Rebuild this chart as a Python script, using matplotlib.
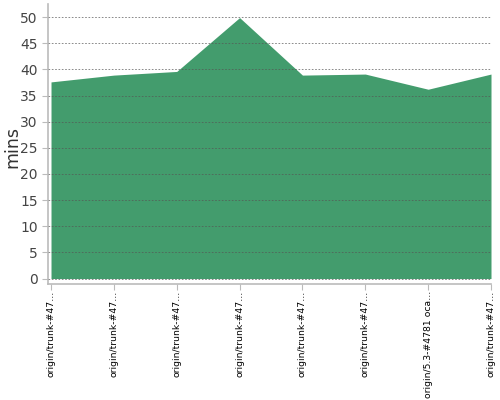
import matplotlib
matplotlib.use("Agg")
import matplotlib.pyplot as plt

# build labels (truncated as in the original) and build durations in minutes
labels = ["origin/trunk-#47\u2026", "origin/trunk-#47\u2026", "origin/trunk-#47\u2026",
          "origin/trunk-#47\u2026", "origin/trunk-#47\u2026", "origin/trunk-#47\u2026",
          "origin/5.3-#4781 oca\u2026", "origin/trunk-#47\u2026"]
minutes = [37.6, 38.9, 39.6, 49.9, 38.9, 39.1, 36.2, 39.1]
yticks = [0, 5, 10, 15, 20, 25, 30, 35, 40, 45, 50]

x = range(len(minutes))

fig = plt.figure(figsize=(5, 4), dpi=100)
ax = fig.add_axes([0.096, 0.29, 0.886, 0.70])

ax.fill_between(x, minutes, 0, color="#439c6d", linewidth=0, zorder=1)

ax.set_xlim(-0.048, 7.0)
ax.set_ylim(-1.05, 52.5)
ax.set_yticks(yticks)
ax.set_xticks(list(x))
ax.set_xticklabels(labels, rotation=90, fontsize=6.7, color="black", va="top")

ax.grid(axis="y", linestyle=(0, (2, 2)), color="#555555", linewidth=0.6, alpha=0.8, zorder=2)
ax.set_axisbelow(False)

for s in ["top", "right"]:
    ax.spines[s].set_visible(False)
for s in ["left", "bottom"]:
    ax.spines[s].set_color("#bbbbbb")
    ax.spines[s].set_linewidth(1.2)

ax.tick_params(axis="y", colors="#bbbbbb", labelcolor="#444444", labelsize=10, length=4, width=0.8)
ax.tick_params(axis="x", colors="#bbbbbb", labelcolor="black", length=4, width=0.8, pad=1)

# y axis title placed by hand so it stays inside the figure
fig.text(0.024, 1 - 147 / 400, "mins", rotation=90, fontsize=12.5, color="#333333",
         ha="center", va="center")

plt.savefig("out.png", dpi=100)
